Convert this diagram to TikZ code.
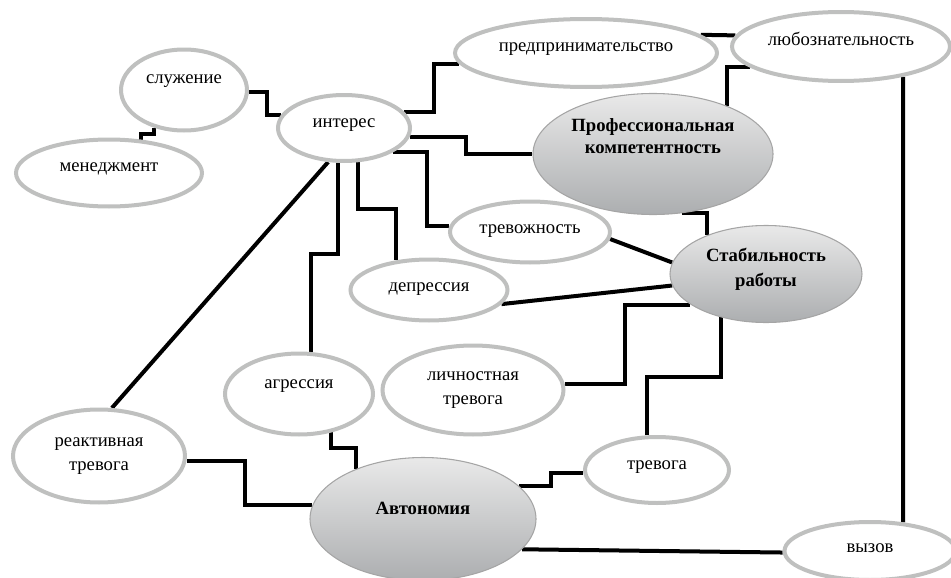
\documentclass[tikz,border=0pt]{standalone}
\usepackage{fontspec}
\setmainfont{Liberation Serif}
\usetikzlibrary{shapes.geometric,backgrounds}
\definecolor{ringgray}{RGB}{191,192,191}
\definecolor{hubtop}{RGB}{233,233,233}
\definecolor{hubbot}{RGB}{172,174,176}
\definecolor{hubrim}{RGB}{165,165,165}
\begin{document}
\begin{tikzpicture}[x=0.75pt,y=-0.75pt]
\tikzset{oval/.style = {shape=ellipse,draw=ringgray,line width=3pt,fill=white,inner sep=0pt,align=center,font=\fontsize{14}{18.5}\selectfont}}
\tikzset{hub/.style = {shape=ellipse,draw=hubrim,line width=0.8pt,top color=hubtop,bottom color=hubbot,inner sep=0pt,align=center,font=\fontsize{14}{18.5}\selectfont\bfseries}}
\tikzset{dims/.style 2 args = {minimum width=#1,minimum height=#2}}
\tikzset{lift/.style = {text height=10pt,text depth=#1}}
\tikzset{link/.style = {line width=3pt,black}}
\useasboundingbox (0,0) rectangle (951,578);
\node[oval,dims={94.5pt}{60.75pt},lift=20.5pt] (sluzh) at (184,90) {служение};
\node[oval,dims={139.5pt}{50.25pt},lift=13pt] (mened) at (109,173) {менеджмент};
\node[oval,dims={99pt}{49.5pt},lift=11.5pt] (inter) at (344,128) {интерес};
\node[oval,dims={196.5pt}{51pt},lift=13pt] (predpr) at (586,53) {предпринимательство};
\node[oval,dims={163.5pt}{51.75pt},lift=12.2pt] (lyub) at (841,46.5) {любознательность};
\node[hub,dims={180pt}{90.75pt},lift=11.5pt,font=\fontsize{14}{16}\selectfont\bfseries] (prof) at (653,154) {Профессиональная\\компетентность};
\node[oval,dims={120pt}{45.75pt},lift=8.5pt] (trevozh) at (530,232) {тревожность};
\node[hub,dims={144pt}{72.75pt},text height=28pt,text depth=10pt] (stab) at (766,274) {Стабильность\\работы};
\node[oval,dims={117.75pt}{45.75pt},lift=8.5pt] (depr) at (429,290) {депрессия};
\node[oval,dims={111pt}{60.75pt},lift=19pt] (agr) at (299,394) {агрессия};
\node[oval,dims={135.75pt}{66.75pt}] (lichn) at (473,390) {личностная\\тревога};
\node[oval,dims={129pt}{69.75pt}] (reakt) at (99,456) {реактивная\\тревога};
\node[hub,dims={169.5pt}{92.25pt},lift=17.5pt] (avt) at (423,519) {Автономия};
\node[oval,dims={108pt}{49.5pt},lift=11.5pt] (trev) at (657,470) {тревога};
\node[oval,dims={128.25pt}{43.5pt},lift=8.5pt] (vyzov) at (870,551) {вызов};
\begin{scope}[on background layer]
\draw[link] (sluzh.-2) -- ++(18,0) |- (inter.168);
\draw[link] (sluzh.-129) -- ++(0,6) -| (mened.46);
\draw[link] (inter.15) -- ++(30,0) |- (predpr.185);
\draw[link] (inter.-8) -- ++(56,0) |- (prof.west);
\draw[link] (inter.-26) -- ++(34,0) |- (trevozh.176);
\draw[link] (inter.-68) -- ++(0,47) -| (depr.138);
\draw[link] (inter.-100) -- ++(0,91) -| (agr.74);
\draw[link] (inter.-115) -- (reakt.75);
\draw[link] (predpr.9) -- (lyub.174);
\draw[link] (prof.33) |- (lyub.193);
\draw[link] (lyub.-26) -- (vyzov.41);
\draw[link] (prof.-64) -| (stab.147);
\draw[link] (trevozh.-5) -- (stab.173);
\draw[link] (depr.-11) -- (stab.187);
\draw[link] (lichn.4) -- ++(60,0) |- (stab.202);
\draw[link] (trev.106) -- ++(0,-58) -| (stab.224);
\draw[link] (avt.19) -- ++(32,0) |- (trev.182);
\draw[link] (avt.-17) -- (vyzov.181);
\draw[link] (agr.-50) -- ++(0,16) -| (avt.143);
\draw[link] (reakt.-3) -- ++(58,0) |- (avt.173);
\end{scope}
\end{tikzpicture}
\end{document}
